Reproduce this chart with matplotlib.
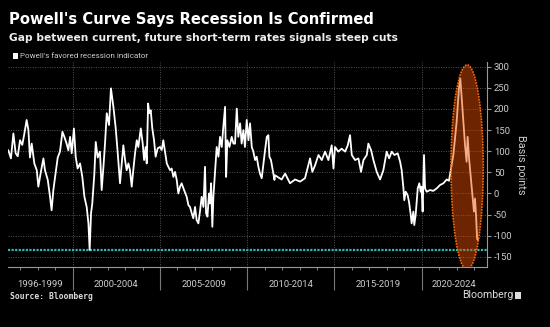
import matplotlib
matplotlib.use("Agg")
from matplotlib import pyplot as plt
from matplotlib.patches import Ellipse, Rectangle
from matplotlib import transforms

plt.rcParams['font.family'] = ['Roboto', 'DejaVu Sans']
plt.rcParams['axes.unicode_minus'] = False

# traced series (decimal year, basis points)
years = [1996.31, 1996.46, 1996.60, 1996.73, 1996.85, 1996.98, 1997.11, 1997.23, 1997.36, 1997.46,
         1997.55, 1997.65, 1997.80, 1997.94, 1998.03, 1998.18, 1998.32, 1998.41, 1998.57, 1998.70,
         1998.79, 1998.89, 1998.99, 1999.14, 1999.27, 1999.41, 1999.52, 1999.65, 1999.75, 1999.85,
         1999.94, 2000.07, 2000.17, 2000.28, 2000.42, 2000.55, 2000.67, 2000.80, 2000.90, 2000.97,
         2001.05, 2001.12, 2001.24, 2001.32, 2001.43, 2001.56, 2001.66, 2001.76, 2001.85, 2001.95,
         2002.08, 2002.19, 2002.33, 2002.46, 2002.58,
         2002.71, 2002.81, 2002.90, 2003.00, 2003.09, 2003.19, 2003.28, 2003.38, 2003.47, 2003.57,
         2003.67, 2003.76, 2003.90, 2004.01, 2004.09, 2004.18, 2004.24, 2004.32, 2004.39, 2004.47,
         2004.56, 2004.66, 2004.75, 2004.87, 2005.00, 2005.10, 2005.19, 2005.29, 2005.39, 2005.48,
         2005.58, 2005.67, 2005.77, 2005.86, 2005.96, 2006.05, 2006.15, 2006.24, 2006.38, 2006.53,
         2006.63, 2006.72, 2006.82, 2006.91, 2007.01, 2007.10, 2007.20, 2007.30, 2007.39, 2007.49,
         2007.58, 2007.64, 2007.72, 2007.81, 2007.87, 2007.93, 2008.00, 2008.06, 2008.15, 2008.25,
         2008.35, 2008.44, 2008.54, 2008.63, 2008.73, 2008.79, 2008.86, 2008.98, 2009.11, 2009.21,
         2009.30, 2009.40, 2009.49, 2009.59, 2009.68, 2009.78, 2009.87, 2009.97, 2010.07, 2010.16,
         2010.26, 2010.35, 2010.45, 2010.54, 2010.64, 2010.73, 2010.83, 2010.93, 2011.02, 2011.12,
         2011.21, 2011.27, 2011.36, 2011.46, 2011.56,
         2011.59, 2011.97, 2012.17, 2012.45, 2012.74, 2013.03, 2013.31, 2013.50, 2013.60, 2013.73,
         2013.89, 2014.08, 2014.27, 2014.46, 2014.65, 2014.84, 2014.94, 2015.03, 2015.22, 2015.41,
         2015.61, 2015.76, 2015.89, 2015.99, 2016.18, 2016.37, 2016.52, 2016.66, 2016.85, 2016.94,
         2017.10, 2017.23, 2017.42, 2017.61, 2017.80, 2017.99, 2018.13, 2018.28, 2018.43, 2018.62,
         2018.76, 2018.85, 2018.95, 2019.00, 2019.08, 2019.19, 2019.27, 2019.37, 2019.42, 2019.52,
         2019.57, 2019.65, 2019.71, 2019.77, 2019.86, 2019.94, 2019.99, 2020.05, 2020.13, 2020.19,
         2020.28, 2020.47, 2020.66, 2020.86, 2021.05, 2021.24, 2021.43, 2021.56, 2021.66, 2021.81,
         2022.00, 2022.13, 2022.21, 2022.29, 2022.38, 2022.48, 2022.57, 2022.63, 2022.71, 2022.80,
         2022.90, 2022.99, 2023.05, 2023.11, 2023.17, 2023.21]
bps = [102, 83, 142, 95, 88, 126, 115, 142, 174, 150,
       85, 118, 71, 55, 16, 52, 83, 55, 32, -8,
       -40, 8, 39, 85, 99, 146, 134, 118, 102, 134,
       95, 154, 87, 59, 71, 39, -8, -32, -71, -134,
       -47, -24, 47, 122, 85, 99, 8, 63, 118, 190,
       162, 249, 205, 156, 95,
       24, 71, 114, 79, 55, 71, 55, 16, 55, 95,
       126, 110, 154, 118, 79, 110, 71, 213, 190, 197,
       154, 126, 87, 107, 110, 103, 126, 99, 71, 63,
       55, 59, 39, 51, 32, 0, 16, 24, 8, -8,
       -28, -32, -47, -59, -32, -63, -71, -40, -8, -32,
       63, -47, -55, 0, -24, 24, -79, -8, 47, 110,
       87, 134, 110, 158, 205, 39, 126, 110, 134, 118,
       118, 201, 134, 166, 118, 150, 110, 174, 126, 166,
       110, 99, 79, 87, 63, 47, 36, 71, 102, 134,
       138, 87, 79, 55, 32,
       43, 33, 47, 24, 33, 28, 36, 67, 83, 51,
       67, 91, 79, 99, 79, 114, 59, 110, 99, 106,
       99, 114, 138, 91, 79, 83, 51, 79, 91, 118,
       102, 79, 51, 33, 55, 99, 83, 99, 91, 95,
       75, 55, 12, -16, 4, -4, -20, -51, -71, -43,
       -75, -51, -20, 12, 24, 4, 16, -43, 91, 12,
       4, 8, 6, 12, 20, 24, 33, 30, 55, 91,
       170, 249, 272, 225, 170, 114, 75, 134, 83, 43,
       -4, -43, -12, -51, -107, -110]

threshold = -134
period_labels = ['1996-1999', '2000-2004', '2005-2009', '2010-2014', '2015-2019', '2020-2024']
period_edges = [1996.29, 2000, 2005, 2010, 2015, 2020, 2023.74]
y_ticks = [-150, -100, -50, 0, 50, 100, 150, 200, 250, 300]

fig = plt.figure(figsize=(5.5, 3.27), dpi=100, facecolor='black')
ax = fig.add_axes([0.0145, 0.1826, 0.871, 0.628])
ax.set_facecolor('black')

ax.plot(years, bps, color='white', linewidth=1.3, zorder=3)
ax.axhline(threshold, color='#2fb8b8', linewidth=1.6, linestyle=(0, (1, 0.6)), zorder=2)

ell = Ellipse((2022.6, 62), width=1.85, height=485,
              facecolor=(0.91, 0.31, 0.0, 0.47), edgecolor='#ff6a00',
              linewidth=1.2, linestyle=(0, (1, 0.7)), zorder=4)
ax.add_patch(ell)

ax.set_xlim(period_edges[0], period_edges[-1])
ax.set_ylim(-175, 311.5)

ax.set_yticks(y_ticks)
ax.yaxis.tick_right()
ax.tick_params(axis='y', colors='#999999', labelcolor='#cccccc', labelsize=6.8,
               length=3, width=0.8, pad=2)
ax.set_ylabel('Basis points', rotation=270, color='#cccccc', fontsize=7.8, labelpad=10)
ax.yaxis.set_label_position('right')

ax.set_xticks(period_edges[1:-1])
ax.set_xticks(range(1997, 2024), minor=True)
ax.tick_params(axis='x', which='major', direction='out', length=16.5, width=0.8,
               color='#777777', labelbottom=False)
ax.tick_params(axis='x', which='minor', direction='out', length=2.5, width=0.6,
               color='#999999')

ax.grid(True, which='major', color='#555555', linestyle=(0, (1, 1.5)), linewidth=0.7)
ax.set_axisbelow(True)

for s in ['top', 'left']:
    ax.spines[s].set_visible(False)
ax.spines['bottom'].set_color('#999999')
ax.spines['right'].set_color('#999999')
ax.spines['bottom'].set_linewidth(0.8)
ax.spines['right'].set_linewidth(0.8)

trans = transforms.blended_transform_factory(ax.transData, ax.transAxes)
for i, lab in enumerate(period_labels):
    mid = (period_edges[i] + period_edges[i + 1]) / 2
    ax.text(mid, -0.082, lab, transform=trans, ha='center', va='center',
            color='#cccccc', fontsize=6.8, clip_on=False)

fig.text(0.016, 0.939, "Powell's Curve Says Recession Is Confirmed", color='white',
         fontsize=10.6, fontweight='bold', family='DejaVu Sans', va='center')
fig.text(0.016, 0.884, "Gap between current, future short-term rates signals steep cuts",
         color='#eeeeee', fontsize=7.7, fontweight='bold', family='DejaVu Sans', va='center')
fig.patches.append(Rectangle((0.024, 0.821), 0.0095, 0.016, transform=fig.transFigure,
                             facecolor='white', edgecolor='none'))
fig.text(0.036, 0.829, "Powell's favored recession indicator", color='#cccccc',
         fontsize=5.8, va='center')

fig.text(0.018, 0.093, "Source: Bloomberg", color='#dddddd', fontsize=5.8,
         fontweight='bold', family='DejaVu Sans Mono', va='center')
fig.text(0.934, 0.098, "Bloomberg", color='#dddddd', fontsize=7.6, ha='right', va='center')
fig.patches.append(Rectangle((0.937, 0.087), 0.011, 0.02, transform=fig.transFigure,
                             facecolor='#dddddd', edgecolor='none'))

fig.savefig('out.png', dpi=100, facecolor='black')
